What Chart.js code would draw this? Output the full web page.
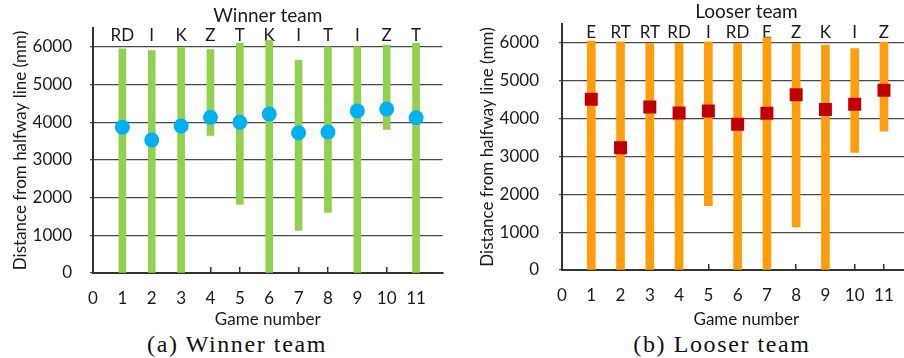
<!DOCTYPE html>
<html>
<head>
<meta charset="utf-8">
<script src="https://cdn.jsdelivr.net/npm/chart.js@4/dist/chart.umd.min.js"></script>
<style>
  html, body { margin: 0; padding: 0; background: #fff; overflow: hidden; width: 904px; height: 358px; }
  .wrap { position: absolute; top: 0; }
  .caption {
    position: absolute; top: 330px; height: 28px; line-height: 28px;
    font-family: "Liberation Serif", "Times New Roman", serif; font-size: 24px;
    letter-spacing: 1.6px; color: #111; text-align: center; white-space: nowrap;
  }
</style>
</head>
<body>
<div class="wrap" style="left:0;width:450px;height:330px"><canvas id="winner"></canvas></div>
<div class="wrap" style="left:450px;width:490px;height:330px"><canvas id="looser"></canvas></div>
<div class="caption" style="left:137px;width:200px">(a) Winner team</div>
<div class="caption" style="left:622px;width:200px">(b) Looser team</div>
<script>
// Game numbers 1..11
const games = [1, 2, 3, 4, 5, 6, 7, 8, 9, 10, 11];

// Winner team: opponent codes, range of positions (min / max) and mean distance (mm)
const winnerCodes = ['RD', 'I', 'K', 'Z', 'T', 'K', 'I', 'T', 'I', 'Z', 'T'];
const winnerLow  = [0, 0, 0, 3650, 1820, 0, 1130, 1610, 0, 3810, 0];
const winnerHigh = [5950, 5900, 5980, 5930, 6100, 6170, 5650, 6000, 6010, 6050, 6090];
const winnerMean = [3870, 3530, 3900, 4130, 4000, 4220, 3720, 3740, 4300, 4350, 4120];

// Looser team
const looserCodes = ['E', 'RT', 'RT', 'RD', 'I', 'RD', 'E', 'Z', 'K', 'I', 'Z'];
const looserLow  = [0, 0, 0, 0, 1700, 0, 0, 1140, 0, 3110, 3670];
const looserHigh = [6050, 6030, 5990, 5990, 6030, 5990, 6140, 5990, 5940, 5850, 6020];
const looserMean = [4510, 3230, 4310, 4150, 4200, 3850, 4140, 4630, 4240, 4380, 4750];

// Axis ticks
const xTicks = [0, 1, 2, 3, 4, 5, 6, 7, 8, 9, 10, 11];
const yTicks = [0, 1000, 2000, 3000, 4000, 5000, 6000];

const SANS = 'Lato, "Open Sans", sans-serif';
const TEXT = '#1a1a1a';

function makeChart(id, cfg) {
  const rangeData = games.map((g, i) => ({ x: g, y: [cfg.low[i], cfg.high[i]] }));
  const meanData = games.map((g, i) => ({ x: g, y: cfg.mean[i] }));
  return new Chart(document.getElementById(id), {
    type: 'bar',
    data: {
      datasets: [
        {
          type: 'scatter',
          data: meanData,
          xAxisID: 'x', yAxisID: 'y',
          pointStyle: cfg.pointStyle,
          pointRadius: cfg.pointRadius,
          pointHoverRadius: cfg.pointRadius,
          backgroundColor: cfg.pointColor,
          borderColor: cfg.pointColor,
          borderWidth: 0,
          order: 0
        },
        {
          type: 'bar',
          data: rangeData,
          xAxisID: 'x', yAxisID: 'y',
          backgroundColor: cfg.barColor,
          borderWidth: 0,
          barThickness: cfg.barWidth,
          borderSkipped: false,
          order: 1
        }
      ]
    },
    options: {
      responsive: true,
      maintainAspectRatio: false,
      animation: false,
      events: [],
      layout: { padding: 0 },
      plugins: {
        legend: { display: false },
        tooltip: { enabled: false },
        title: {
          display: true,
          text: cfg.title,
          fullSize: false,
          color: TEXT,
          font: { family: SANS, size: 19, weight: 'normal', lineHeight: 1.2 },
          padding: { top: cfg.titlePadTop, bottom: 0 }
        }
      },
      scales: {
        x: {
          type: 'linear',
          position: 'bottom',
          min: 0,
          max: cfg.xMax,
          offset: false,
          afterBuildTicks: s => { s.ticks = xTicks.map(v => ({ value: v })); },
          afterFit: s => { s.height = cfg.xAxisHeight; },
          grid: {
            offset: false,
            drawOnChartArea: false,
            drawTicks: true,
            tickLength: -6,
            color: '#333',
            lineWidth: 1.5
          },
          border: { display: true, color: '#333', width: 2 },
          ticks: {
            padding: 21,
            color: TEXT,
            font: { family: SANS, size: 17 },
            maxRotation: 0,
            autoSkip: false
          },
          title: {
            display: true,
            text: 'Game number',
            color: TEXT,
            font: { family: SANS, size: 17, lineHeight: 1.2 },
            padding: { top: 0, bottom: 0 }
          }
        },
        // opponent codes written just under the top of the plot
        xTop: {
          type: 'linear',
          axis: 'x',
          position: 'top',
          min: 0,
          max: cfg.xMax,
          offset: false,
          afterBuildTicks: s => { s.ticks = games.map(v => ({ value: v })); },
          afterFit: s => { s.height = cfg.topAxisHeight; },
          grid: { display: false, drawTicks: false, drawOnChartArea: false },
          border: { display: false },
          ticks: {
            mirror: true,
            padding: cfg.codePad,
            color: TEXT,
            font: { family: SANS, size: 17, lineHeight: 1.2 },
            maxRotation: 0,
            autoSkip: false,
            callback: v => cfg.codes[games.indexOf(v)] || ''
          }
        },
        y: {
          type: 'linear',
          position: 'left',
          min: 0,
          max: 6500,
          afterBuildTicks: s => { s.ticks = yTicks.map(v => ({ value: v })); },
          afterFit: s => {
            s.width = cfg.yAxisWidth;
            s.paddingTop = 0;
            s.paddingBottom = 0;
          },
          grid: {
            color: '#4a4a4a',
            lineWidth: 1.3,
            drawTicks: true,
            tickLength: 3
          },
          border: { display: true, color: '#333', width: 2 },
          ticks: {
            padding: cfg.yTickPad,
            color: TEXT,
            font: { family: SANS, size: 17 },
            callback: v => String(v)
          },
          title: {
            display: true,
            text: 'Distance from halfway line (mm)',
            color: TEXT,
            font: { family: SANS, size: 17, lineHeight: 1.2 },
            padding: { top: cfg.yTitlePad, bottom: 0 }
          }
        }
      }
    }
  });
}

makeChart('winner', {
  title: 'Winner team',
  codes: winnerCodes, low: winnerLow, high: winnerHigh, mean: winnerMean,
  barColor: '#92D050', barWidth: 7,
  pointColor: '#00B0F0', pointStyle: 'circle', pointRadius: 7.5,
  xMax: 11.9,
  titlePadTop: 4, topAxisHeight: 1.2, codePad: -3,
  xAxisHeight: 57, yAxisWidth: 93, yTickPad: 18, yTitlePad: 10
});

makeChart('looser', {
  title: 'Looser team',
  codes: looserCodes, low: looserLow, high: looserHigh, mean: looserMean,
  barColor: '#FF9E0A', barWidth: 8,
  pointColor: '#C00000', pointStyle: 'rect', pointRadius: 9.2,
  xMax: 12.6,
  titlePadTop: 0, topAxisHeight: 1.2, codePad: -2,
  xAxisHeight: 60, yAxisWidth: 112, yTickPad: 20, yTitlePad: 27
});
</script>
</body>
</html>
